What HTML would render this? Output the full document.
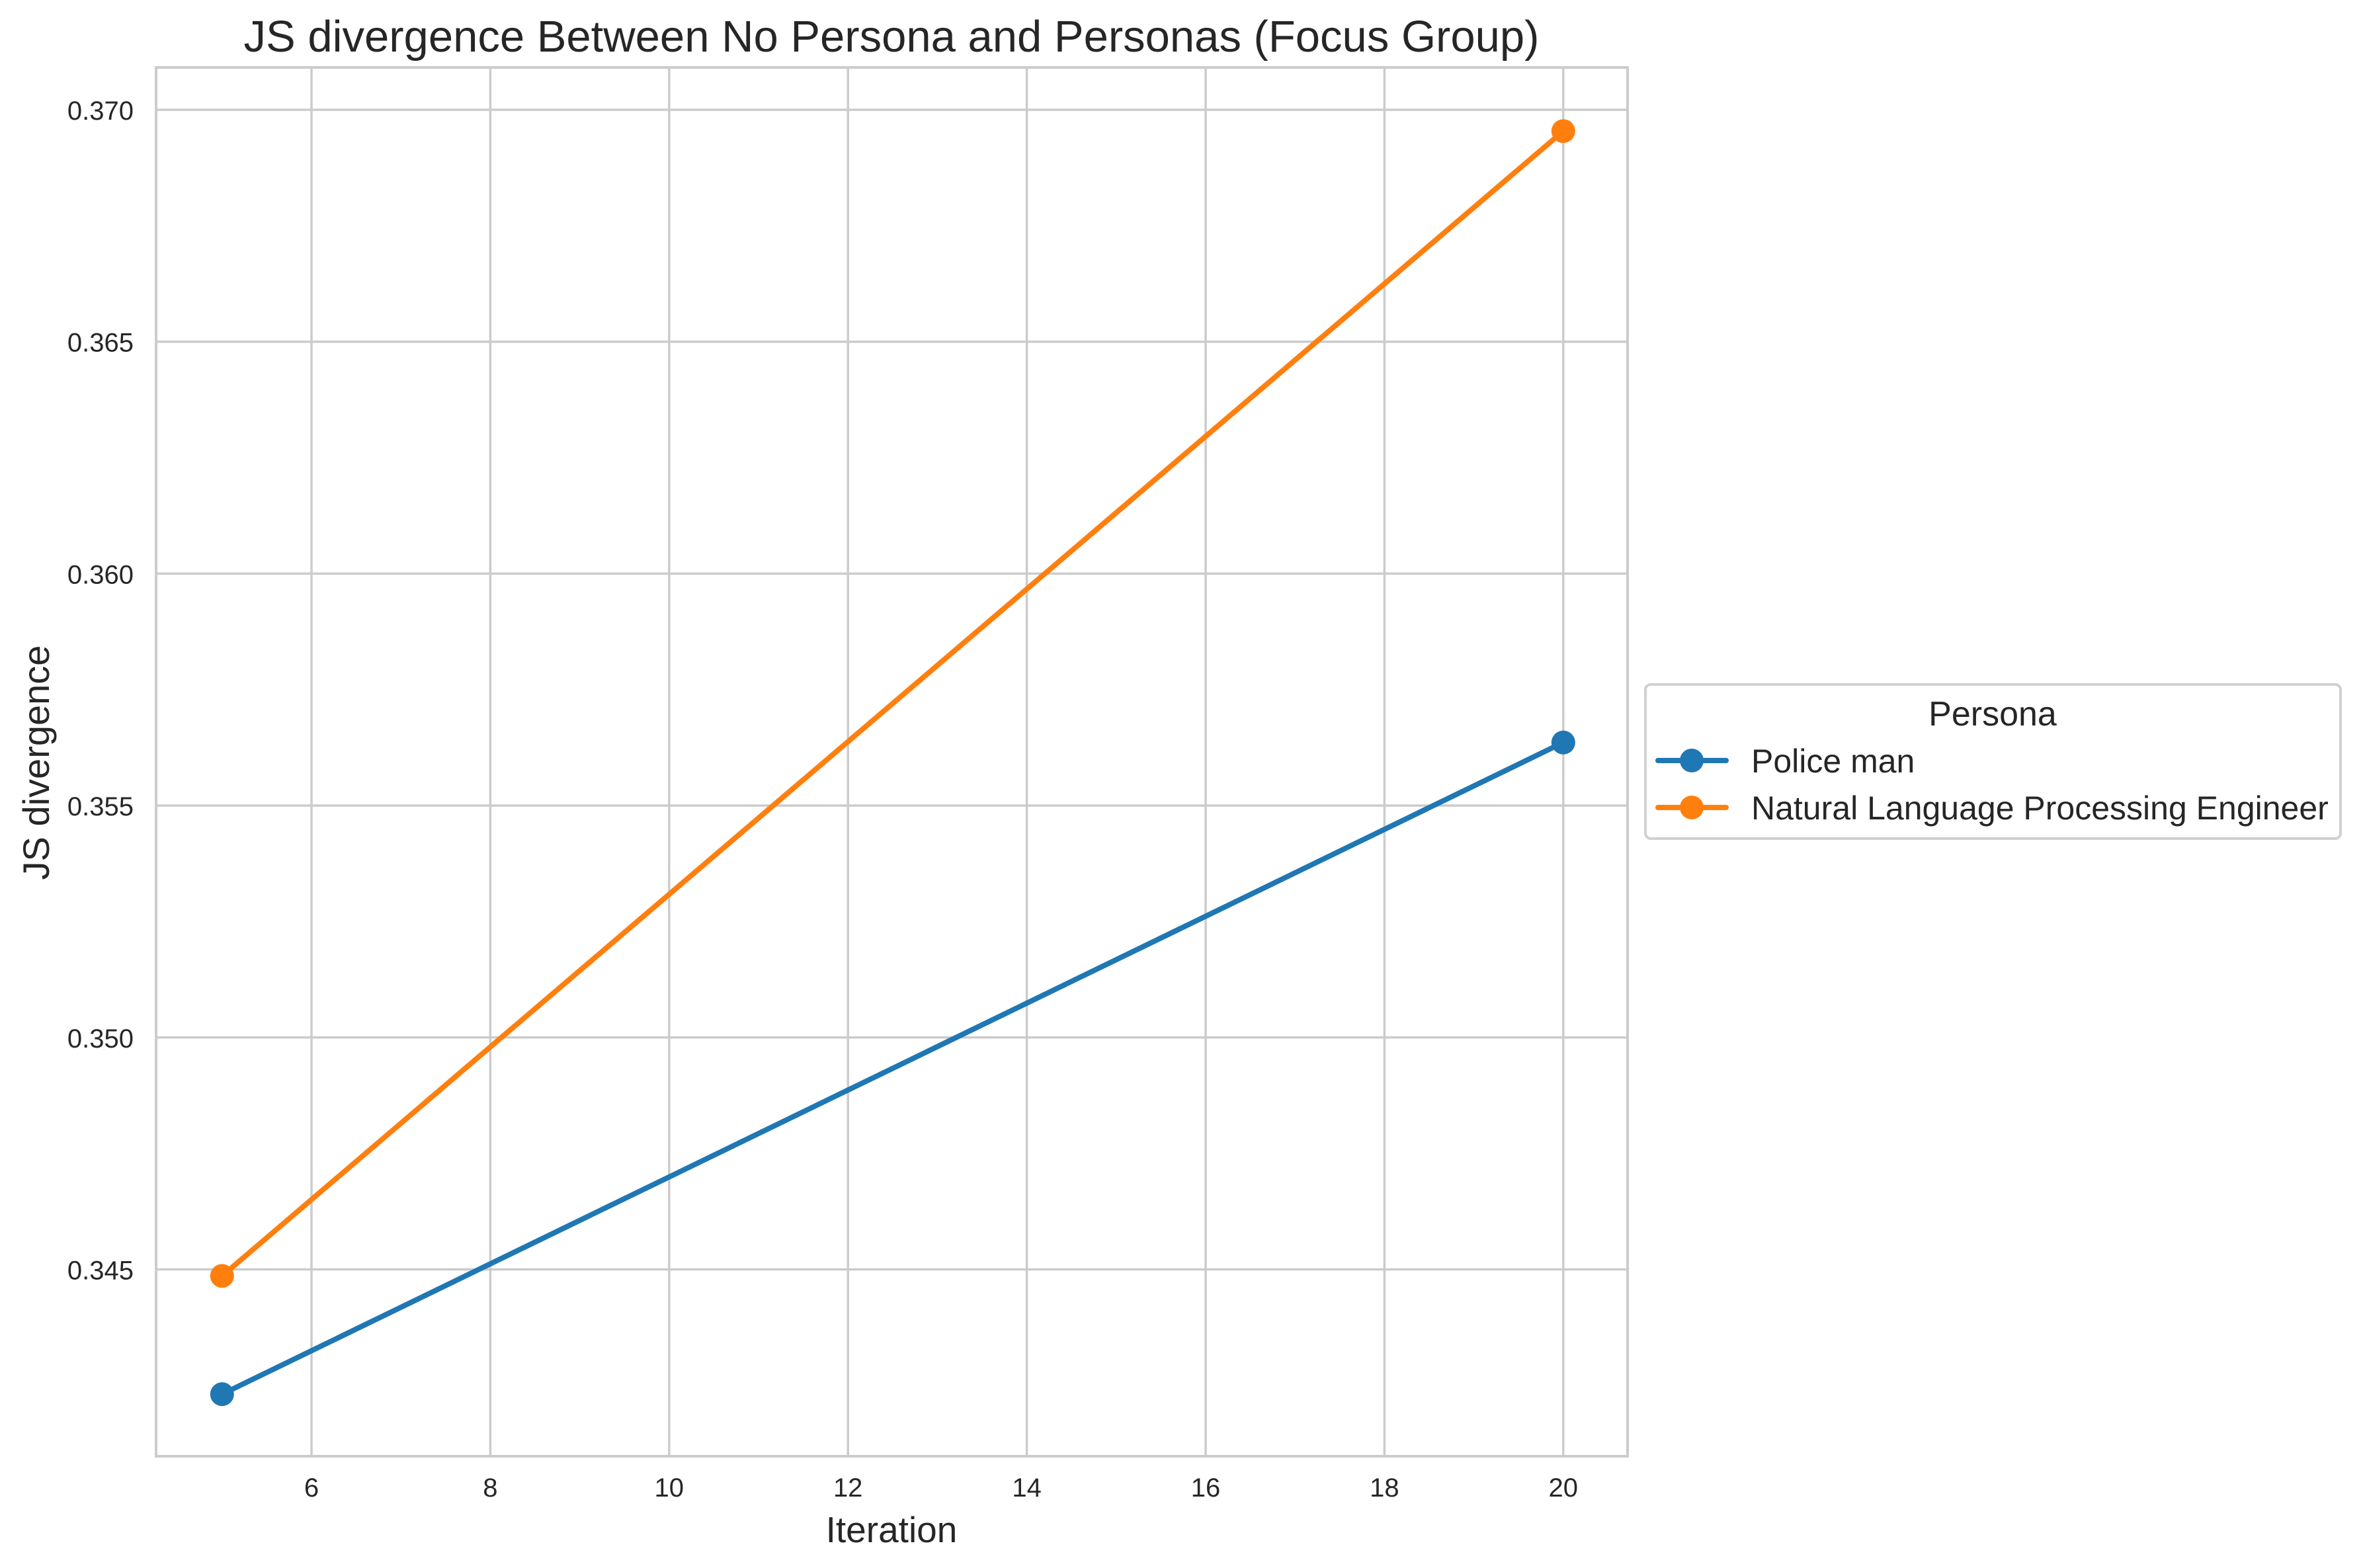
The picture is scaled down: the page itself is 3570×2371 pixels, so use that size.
<!DOCTYPE html>
<html><head><meta charset="utf-8"><style>
html,body{margin:0;padding:0;background:#fff;}
svg{display:block;font-family:"Liberation Sans",Arial,sans-serif;}
</style></head><body>
<svg id="chart" width="3570" height="2371" viewBox="0 0 3570 2371">
<rect width="3570" height="2371" fill="#fff"/>
<g id="grid"></g>
<g id="series"></g>
<g id="ticks"></g>
<text x="1348" y="78" text-anchor="middle" font-size="67" fill="#262626">JS divergence Between No Persona and Personas (Focus Group)</text>
<text x="1348" y="2332" text-anchor="middle" font-size="55" fill="#262626">Iteration</text>
<text transform="translate(74,1153) rotate(-90)" text-anchor="middle" font-size="56" fill="#262626">JS divergence</text>
<g>
<rect x="2488" y="1035" width="1051" height="233" rx="8" fill="#fff" stroke="#d0d0d0" stroke-width="4"/>
<text x="3013" y="1097" text-anchor="middle" font-size="52" fill="#262626">Persona</text>
<g>
<line x1="2507" y1="1150" x2="2610" y2="1150" stroke="#1f77b4" stroke-width="8" stroke-linecap="round"/>
<circle cx="2558" cy="1150" r="18" fill="#1f77b4"/>
<text x="2648" y="1168" font-size="50" fill="#262626">Police man</text>
</g>
<g>
<line x1="2507" y1="1221" x2="2610" y2="1221" stroke="#ff7f0e" stroke-width="8" stroke-linecap="round"/>
<circle cx="2558" cy="1221" r="18" fill="#ff7f0e"/>
<text x="2648" y="1239" font-size="50" fill="#262626">Natural Language Processing Engineer</text>
</g>
</g>
</svg>
<script>
const iterations = [5, 20];
const policeMan = [0.34231, 0.35636];
const nlpEngineer = [0.34486, 0.36954];
const xTicks = [6, 8, 10, 12, 14, 16, 18, 20];
const yTicks = [0.345, 0.350, 0.355, 0.360, 0.365, 0.370];

const L = 236, R = 2461, T = 102, B = 2202;
function xs(v){ return 471 + (v - 6) * 135.2; }
function ys(v){ return 166 + (0.370 - v) * 70140; }
const NS = "http://www.w3.org/2000/svg";
function mk(tag, attrs, parent){ const e = document.createElementNS(NS, tag); for (const k in attrs) e.setAttribute(k, attrs[k]); parent.appendChild(e); return e; }
const grid = document.getElementById('grid'), ticks = document.getElementById('ticks'), series = document.getElementById('series');

xTicks.forEach(t => {
  const g = mk('line', {x1: xs(t), x2: xs(t), y1: T, y2: B, stroke: '#cccccc', 'stroke-width': 3.5}, grid);
  
  
  const lb = mk('text', {x: xs(t), y: 2263, 'text-anchor': 'middle', 'font-size': 40, fill: '#262626'}, ticks);
  lb.textContent = t;
  
  
});
yTicks.forEach(t => {
  const g = mk('line', {x1: L, x2: R, y1: ys(t), y2: ys(t), stroke: '#cccccc', 'stroke-width': 3.5}, grid);
  
  
  const lb = mk('text', {x: 202, y: ys(t) + 15, 'text-anchor': 'end', 'font-size': 40, fill: '#262626'}, ticks);
  lb.textContent = t.toFixed(3);
  
  
});
const frame = mk('rect', {x: L, y: T, width: R - L, height: B - T, fill: 'none', stroke: '#cccccc', 'stroke-width': 4}, grid);



function drawSeries(vals, color, name){
  const pts = iterations.map((x, i) => xs(x) + ',' + ys(vals[i])).join(' ');
  const pl = mk('polyline', {points: pts, fill: 'none', stroke: color, 'stroke-width': 8, 'stroke-linecap': 'round'}, series);
  
  
  iterations.forEach((x, i) => {
    const c = mk('circle', {cx: xs(x), cy: ys(vals[i]), r: 18, fill: color}, series);
    
    
  });
}
drawSeries(policeMan, '#1f77b4', 'police-man');
drawSeries(nlpEngineer, '#ff7f0e', 'nlp-engineer');
</script>
</body></html>
